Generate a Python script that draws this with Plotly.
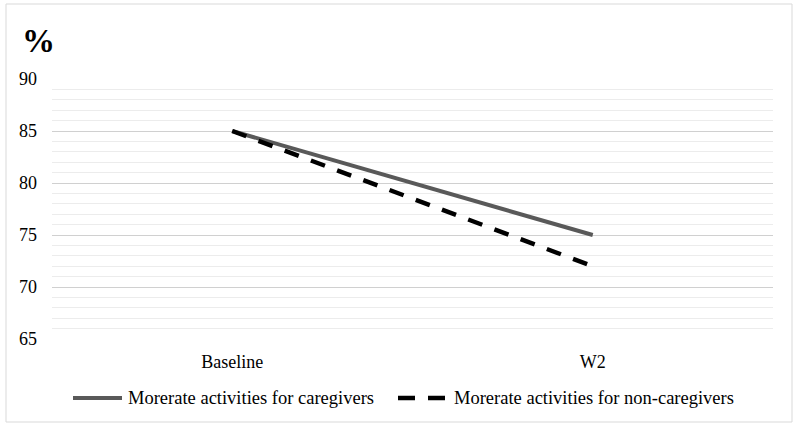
import plotly.graph_objects as go

categories = ["Baseline", "W2"]
caregivers = [85, 75]
non_caregivers = [85, 72]
series_names = ["Morerate activities for caregivers", "Morerate activities for non-caregivers"]
y_ticks = [65, 70, 75, 80, 85, 90]

FONT = "Liberation Serif"

fig = go.Figure()
fig.add_trace(go.Scatter(x=categories, y=caregivers, mode="lines", name=series_names[0],
                         line=dict(color="#595959", width=4), showlegend=False))
fig.add_trace(go.Scatter(x=categories, y=non_caregivers, mode="lines", name=series_names[1],
                         line=dict(color="#000000", width=4.5, dash="15px,13px"), showlegend=False))

W, H = 799, 428
L, R, T, B = 52, 26, 79, 89
pw, ph = W - L - R, H - T - B

def px(x):
    return (x - L) / pw

def py(y):
    return (H - B - y) / ph

shapes = [
    dict(type="rect", xref="paper", yref="paper", x0=px(6), x1=px(792), y0=py(422), y1=py(4),
         line=dict(color="#d9d9d9", width=1), fillcolor="rgba(0,0,0,0)", layer="below"),
    dict(type="line", xref="paper", yref="paper", x0=px(73), x1=px(122), y0=py(398), y1=py(398),
         line=dict(color="#595959", width=4)),
    dict(type="line", xref="paper", yref="paper", x0=px(398), x1=px(447), y0=py(398), y1=py(398),
         line=dict(color="#000000", width=4.5, dash="17px,13px")),
]

annotations = [
    dict(text="<b>%</b>", xref="paper", yref="paper", x=px(38), y=py(41), showarrow=False,
         font=dict(family=FONT, size=33, color="#000000"), xanchor="center", yanchor="middle"),
    dict(text=series_names[0], xref="paper", yref="paper", x=px(126), y=py(398), showarrow=False,
         font=dict(family=FONT, size=18.5, color="#000000"), xanchor="left", yanchor="middle"),
    dict(text=series_names[1], xref="paper", yref="paper", x=px(452), y=py(398), showarrow=False,
         font=dict(family=FONT, size=18.5, color="#000000"), xanchor="left", yanchor="middle"),
]

fig.update_layout(
    width=W, height=H,
    margin=dict(l=L, r=R, t=T, b=B),
    paper_bgcolor="white", plot_bgcolor="white",
    font=dict(family=FONT, size=18, color="#000000"),
    shapes=shapes, annotations=annotations,
    xaxis=dict(type="category", range=[-0.5, 1.5], showgrid=False, zeroline=False,
               showline=False, ticks="", ticklabelstandoff=10,
               tickfont=dict(family=FONT, size=18, color="#000000")),
    yaxis=dict(range=[65, 90], tickvals=y_ticks, showgrid=True, gridcolor="#d0d0d0", gridwidth=1,
               zeroline=False, showline=False, ticks="", ticklabelstandoff=14,
               tickfont=dict(family=FONT, size=18, color="#000000"),
               minor=dict(dtick=1, tick0=65, showgrid=True, gridcolor="#ececec", gridwidth=1)),
)

fig.write_html("out.html")
